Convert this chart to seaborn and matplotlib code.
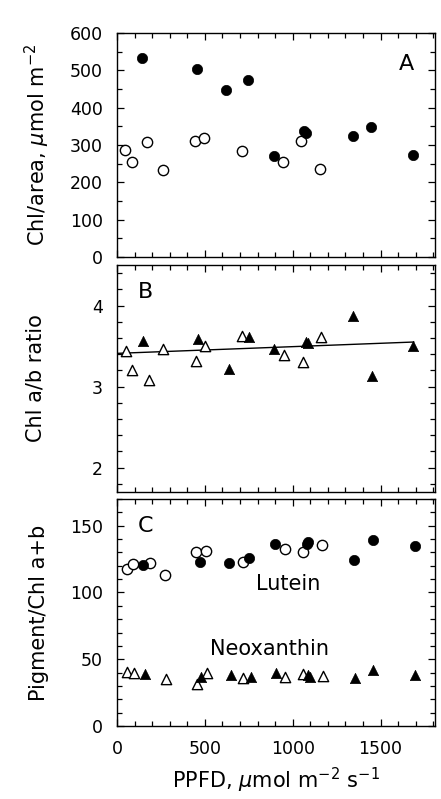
import numpy as np
import matplotlib
matplotlib.use("Agg")
import matplotlib.pyplot as plt
from matplotlib.ticker import MultipleLocator
import seaborn as sns

# Panel A: Chl per area (open = one group, filled = other)
a_open_x = [48, 84, 173, 260, 443, 498, 711, 944, 1049, 1157]
a_open_y = [286, 255, 307, 232, 312, 320, 284, 255, 311, 236]
a_fill_x = [141, 458, 623, 743, 891, 1066, 1078, 1341, 1446, 1685]
a_fill_y = [534, 503, 446, 473, 270, 337, 332, 323, 348, 273]

# Panel B: Chl a/b ratio
b_open_x = [53, 87, 181, 264, 448, 503, 714, 948, 1056, 1159]
b_open_y = [3.44, 3.21, 3.08, 3.47, 3.32, 3.50, 3.63, 3.39, 3.30, 3.61]
b_fill_x = [146, 463, 636, 750, 895, 1073, 1085, 1343, 1453, 1685]
b_fill_y = [3.56, 3.59, 3.22, 3.61, 3.47, 3.55, 3.54, 3.87, 3.13, 3.50]
fit_x = [0, 1690]
fit_y = [3.41, 3.55]

# Panel C: lutein (circles) and neoxanthin (triangles)
lut_open_x = [59, 93, 188, 272, 450, 509, 720, 956, 1058, 1165]
lut_open_y = [117.6, 121.1, 122.1, 113.4, 130.3, 131.3, 123.1, 132.5, 130.1, 135.8]
lut_fill_x = [150, 471, 640, 754, 900, 1080, 1089, 1351, 1459, 1695]
lut_fill_y = [120.9, 122.6, 122.4, 125.8, 136.0, 136.0, 137.5, 124.6, 139.3, 134.8]
neo_open_x = [59, 97, 277, 454, 513, 718, 957, 1060, 1170]
neo_open_y = [40.7, 39.7, 35.5, 31.5, 39.5, 36.0, 36.5, 39.2, 37.7]
neo_fill_x = [160, 477, 648, 762, 906, 1087, 1096, 1353, 1459, 1699]
neo_fill_y = [38.8, 36.7, 38.0, 36.7, 39.7, 38.0, 37.0, 36.2, 42.0, 38.0]

sns.set_style("ticks")
plt.rcParams['font.family'] = ['DejaVu Sans']
plt.rcParams['mathtext.fontset'] = 'dejavusans'
plt.rcParams['text.color'] = 'black'
plt.rcParams['axes.labelcolor'] = 'black'

fig = plt.figure(figsize=(4.41, 7.99), dpi=100)
left, width = 117 / 441, 318 / 441
boxes = [(33, 257), (265, 492), (499, 726)]
axes = []
for top, bot in boxes:
    ax = fig.add_axes([left, 1 - bot / 799, width, (bot - top) / 799])
    axes.append(ax)

MS = 55
open_kw = dict(facecolor='white', edgecolor='black', linewidth=1.0, s=MS, zorder=3)
fill_kw = dict(color='black', edgecolor='black', linewidth=0.5, s=MS, zorder=3)

axA, axB, axC = axes
sns.scatterplot(x=a_open_x, y=a_open_y, marker='o', ax=axA, **open_kw)
sns.scatterplot(x=a_fill_x, y=a_fill_y, marker='o', ax=axA, **fill_kw)

sns.scatterplot(x=b_open_x, y=b_open_y, marker='^', ax=axB, **open_kw)
sns.scatterplot(x=b_fill_x, y=b_fill_y, marker='^', ax=axB, **fill_kw)
sns.lineplot(x=fit_x, y=fit_y, color='black', linewidth=1.0, ax=axB)

sns.scatterplot(x=lut_open_x, y=lut_open_y, marker='o', ax=axC, **open_kw)
sns.scatterplot(x=lut_fill_x, y=lut_fill_y, marker='o', ax=axC, **fill_kw)
sns.scatterplot(x=neo_open_x, y=neo_open_y, marker='^', ax=axC, **open_kw)
sns.scatterplot(x=neo_fill_x, y=neo_fill_y, marker='^', ax=axC, **fill_kw)

axA.set_ylim(0, 600)
axA.yaxis.set_major_locator(MultipleLocator(100))
axA.yaxis.set_minor_locator(MultipleLocator(50))
axB.set_ylim(1.7, 4.5)
axB.yaxis.set_major_locator(MultipleLocator(1))
axB.yaxis.set_minor_locator(MultipleLocator(0.2))
axC.set_ylim(0, 170)
axC.yaxis.set_major_locator(MultipleLocator(50))
axC.yaxis.set_minor_locator(MultipleLocator(10))

for ax in axes:
    ax.set_xlim(0, 1810)
    ax.xaxis.set_major_locator(MultipleLocator(500))
    ax.xaxis.set_minor_locator(MultipleLocator(100))
    ax.tick_params(which='both', direction='in', top=True, right=True,
                   width=0.9, labelsize=12.5, pad=10, colors='black')
    ax.tick_params(which='major', length=5)
    ax.tick_params(which='minor', length=3.5)
    for sp in ax.spines.values():
        sp.set_visible(True)
        sp.set_linewidth(1.0)
        sp.set_color('black')
    ax.set_facecolor('white')

axA.tick_params(labelbottom=False)
axB.tick_params(labelbottom=False)

axA.set_ylabel(r"Chl/area, $\mu$mol m$^{-2}$", fontsize=15)
axB.set_ylabel("Chl a/b ratio", fontsize=15)
axC.set_ylabel("Pigment/Chl a+b", fontsize=15)
axC.set_xlabel(r"PPFD, $\mu$mol m$^{-2}$ s$^{-1}$", fontsize=15, labelpad=6)
axA.yaxis.set_label_coords(-0.205, 0.5)
axB.yaxis.set_label_coords(-0.225, 0.5)
axC.yaxis.set_label_coords(-0.215, 0.5)

axA.text(0.91, 0.86, "A", transform=axA.transAxes, fontsize=16, ha='center', va='center')
axB.text(0.09, 0.88, "B", transform=axB.transAxes, fontsize=16, ha='center', va='center')
axC.text(0.09, 0.88, "C", transform=axC.transAxes, fontsize=16, ha='center', va='center')
axC.text(975, 106, "Lutein", fontsize=15, ha='center', va='center')
axC.text(866, 58, "Neoxanthin", fontsize=15, ha='center', va='center')

fig.savefig("out.png", dpi=100, facecolor='white')
